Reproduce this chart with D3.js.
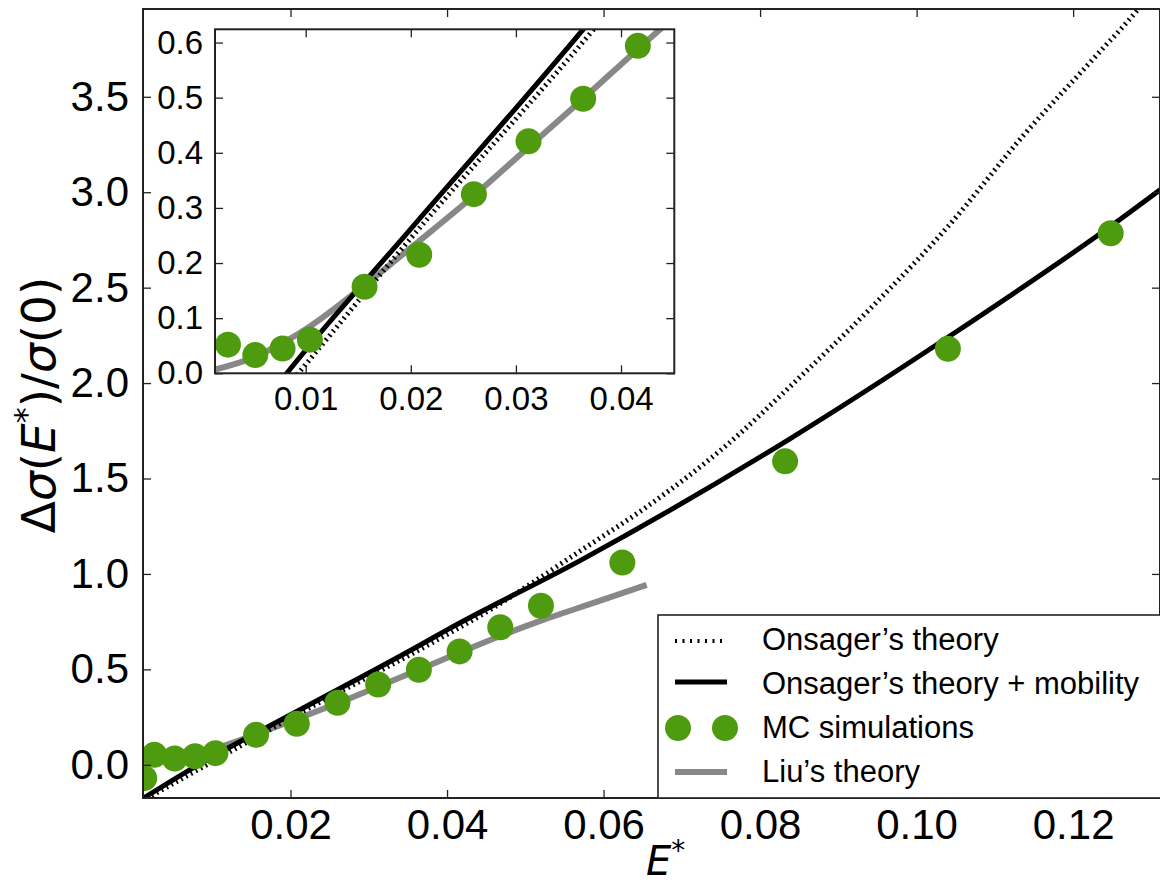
<!DOCTYPE html>
<html>
<head>
<meta charset="utf-8">
<script src="https://cdn.jsdelivr.net/npm/d3@7"></script>
<style>
  html, body { margin: 0; padding: 0; background: #fff; }
  svg { display: block; }
</style>
</head>
<body>
<svg id="chart" width="1160" height="885"></svg>
<script>
// ---------------- data ----------------
const mcX = [0.0013, 0.0026, 0.0052, 0.0078, 0.0104, 0.0156, 0.0208, 0.0260, 0.0312, 0.0364, 0.0416, 0.0468, 0.0520, 0.0624, 0.0832, 0.1040, 0.1248];
const mcY = [-0.07, 0.052, 0.033, 0.045, 0.061, 0.157, 0.215, 0.325, 0.421, 0.498, 0.594, 0.721, 0.833, 1.060, 1.590, 2.180, 2.785];

const onsagerX = [0.0010, 0.0093, 0.0200, 0.0374, 0.0450, 0.0570, 0.0658, 0.0753, 0.0848, 0.0948, 0.1040, 0.1137, 0.1226, 0.1283, 0.1300];
const onsagerY = [-0.19, 0.000, 0.245, 0.624, 0.800, 1.120, 1.360, 1.660, 2.020, 2.420, 2.820, 3.300, 3.700, 3.960, 4.050];

const mobilityX = [0.0010, 0.0082, 0.0200, 0.0364, 0.0400, 0.0570, 0.0835, 0.1040, 0.1254, 0.1320];
const mobilityY = [-0.18, 0.000, 0.262, 0.624, 0.707, 1.070, 1.700, 2.240, 2.840, 3.040];

const liuX = [0.0010, 0.0052, 0.0078, 0.0104, 0.0156, 0.0208, 0.0260, 0.0312, 0.0364, 0.0416, 0.0468, 0.0520, 0.0590, 0.0655];
const liuY = [0.005, 0.030, 0.055, 0.085, 0.160, 0.240, 0.322, 0.410, 0.498, 0.588, 0.675, 0.755, 0.852, 0.943];

const mainXTicks = [0.02, 0.04, 0.06, 0.08, 0.10, 0.12];
const mainYTicks = [0.0, 0.5, 1.0, 1.5, 2.0, 2.5, 3.0, 3.5];
const insetXTicks = [0.01, 0.02, 0.03, 0.04];
const insetYTicks = [0.0, 0.1, 0.2, 0.3, 0.4, 0.5, 0.6];

const legendLabels = ["Onsager\u2019s theory", "Onsager\u2019s theory + mobility", "MC simulations", "Liu\u2019s theory"];

// ---------------- styles ----------------
const GREEN = "#4f9b10";
const GREY = "#888888";
const FRAME = "#222222";
const TICKFONT = "'Liberation Sans', Arial, sans-serif";

const svg = d3.select("#chart");

function toPts(xs, ys) { return xs.map((x, i) => [x, ys[i]]); }

function drawPanel(g, opt) {
  const { x, y, id, xTicks, yTicks, xFmt, yFmt, fontSize, xPad, yPad } = opt;
  const [x0, x1] = x.range();
  const [y0, y1] = y.range(); // y0 bottom, y1 top

  g.append("rect").attr("x", x0).attr("y", y1).attr("width", x1 - x0).attr("height", y0 - y1)
    .attr("fill", "#fff");

  g.append("clipPath").attr("id", id).append("rect")
    .attr("x", x0).attr("y", y1).attr("width", x1 - x0).attr("height", y0 - y1);

  const plot = g.append("g").attr("clip-path", `url(#${id})`);
  const line = d3.line().x(d => x(d[0])).y(d => y(d[1])).curve(d3.curveMonotoneX);

  plot.append("path").datum(toPts(liuX, liuY)).attr("d", line)
    .attr("fill", "none").attr("stroke", GREY).attr("stroke-width", 6);
  plot.append("path").datum(toPts(onsagerX, onsagerY)).attr("d", line)
    .attr("fill", "none").attr("stroke", "#000").attr("stroke-width", 5)
    .attr("stroke-dasharray", "1.8,3.8");
  plot.append("path").datum(toPts(mobilityX, mobilityY)).attr("d", line)
    .attr("fill", "none").attr("stroke", "#000").attr("stroke-width", 5);
  plot.selectAll("circle.mc").data(toPts(mcX, mcY)).enter().append("circle")
    .attr("class", "mc")
    .attr("cx", d => x(d[0])).attr("cy", d => y(d[1])).attr("r", 13)
    .attr("fill", GREEN);

  // axes (ticks pointing inward on all four sides)
  const styleAxis = sel => {
    sel.select(".domain").remove();
    sel.selectAll(".tick line").attr("stroke", FRAME).attr("stroke-width", 1.3);
    sel.selectAll("text").attr("font-family", TICKFONT).attr("font-size", fontSize).attr("fill", "#000");
  };
  g.append("g").attr("transform", `translate(0,${y0})`)
    .call(d3.axisBottom(x).tickValues(xTicks).tickFormat(xFmt).tickSizeInner(-8).tickSizeOuter(0).tickPadding(xPad))
    .call(styleAxis);
  g.append("g").attr("transform", `translate(0,${y1})`)
    .call(d3.axisTop(x).tickValues(xTicks).tickFormat("").tickSizeInner(-8).tickSizeOuter(0))
    .call(styleAxis);
  g.append("g").attr("transform", `translate(${x0},0)`)
    .call(d3.axisLeft(y).tickValues(yTicks).tickFormat(yFmt).tickSizeInner(-8).tickSizeOuter(0).tickPadding(yPad))
    .call(styleAxis);
  g.append("g").attr("transform", `translate(${x1},0)`)
    .call(d3.axisRight(y).tickValues(yTicks).tickFormat("").tickSizeInner(-8).tickSizeOuter(0))
    .call(styleAxis);

  g.append("rect").attr("x", x0).attr("y", y1).attr("width", x1 - x0).attr("height", y0 - y1)
    .attr("fill", "none").attr("stroke", FRAME).attr("stroke-width", 2);
  return g;
}

// ---------------- main axes ----------------
const xMain = d3.scaleLinear().domain([0.00115, 0.1311]).range([143, 1160]);
const yMain = d3.scaleLinear().domain([-0.174, 3.96]).range([798, 9]);

const mainG = svg.append("g");
drawPanel(mainG, {
  x: xMain, y: yMain, id: "clipMain",
  xTicks: mainXTicks, yTicks: mainYTicks,
  xFmt: d3.format(".2f"), yFmt: d3.format(".1f"),
  fontSize: 42, xPad: 11, yPad: 14
});

// axis labels
svg.append("text")
  .attr("x", 646).attr("y", 875)
  .attr("text-anchor", "start")
  .attr("font-family", "'DejaVu Sans', sans-serif").attr("font-size", 40)
  .call(t => {
    t.append("tspan").attr("font-style", "italic").text("E");
    t.append("tspan").attr("dy", -15).attr("font-size", 28).text("*");
  });

svg.append("text")
  .attr("transform", "translate(55,405) rotate(-90)")
  .attr("text-anchor", "middle")
  .attr("font-family", "'DejaVu Sans', sans-serif").attr("font-size", 47)
  .call(t => {
    t.append("tspan").text("\u0394");
    t.append("tspan").attr("font-style", "italic").text("\u03c3");
    t.append("tspan").text("(");
    t.append("tspan").attr("font-style", "italic").text("E");
    t.append("tspan").attr("dy", -18).attr("font-size", 32).text("*");
    t.append("tspan").attr("dy", 18).text(")/");
    t.append("tspan").attr("font-style", "italic").text("\u03c3");
    t.append("tspan").text("(0)");
  });

// ---------------- legend ----------------
const legG = svg.append("g");
legG.append("rect").attr("x", 658).attr("y", 615).attr("width", 520).attr("height", 183)
  .attr("fill", "#fff").attr("stroke", FRAME).attr("stroke-width", 1.6);
const rowBase = [650, 694, 738, 782];
const hx0 = 675, hx1 = 727;
// dotted
legG.append("line").attr("x1", hx0).attr("x2", hx1).attr("y1", rowBase[0] - 9).attr("y2", rowBase[0] - 9)
  .attr("stroke", "#000").attr("stroke-width", 4).attr("stroke-dasharray", "2,5.5");
// solid
legG.append("line").attr("x1", hx0).attr("x2", hx1).attr("y1", rowBase[1] - 12).attr("y2", rowBase[1] - 12)
  .attr("stroke", "#000").attr("stroke-width", 5);
// markers
legG.selectAll("circle").data([678, 725]).enter().append("circle")
  .attr("cx", d => d).attr("cy", rowBase[2] - 10).attr("r", 13).attr("fill", GREEN);
// grey
legG.append("line").attr("x1", hx0).attr("x2", hx1).attr("y1", rowBase[3] - 10).attr("y2", rowBase[3] - 10)
  .attr("stroke", GREY).attr("stroke-width", 6);
legG.selectAll("text").data(legendLabels).enter().append("text")
  .attr("x", 762).attr("y", (d, i) => rowBase[i])
  .attr("font-family", "'Liberation Sans', Arial, sans-serif").attr("font-size", 31)
  .attr("fill", "#000").text(d => d);

// ---------------- inset ----------------
const xIn = d3.scaleLinear().domain([0.00137, 0.04507]).range([215, 674.3]);
const yIn = d3.scaleLinear().domain([0, 0.624]).range([373.3, 29.3]);
const insetG = svg.append("g");
drawPanel(insetG, {
  x: xIn, y: yIn, id: "clipInset",
  xTicks: insetXTicks, yTicks: insetYTicks,
  xFmt: d3.format(".2f"), yFmt: d3.format(".1f"),
  fontSize: 33, xPad: 13, yPad: 12
});
</script>
</body>
</html>
